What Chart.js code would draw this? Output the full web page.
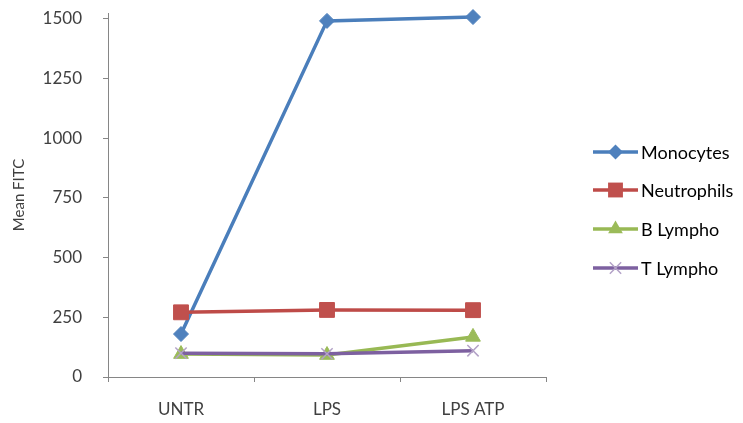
<!DOCTYPE html>
<html>
<head>
<meta charset="utf-8">
<script src="https://cdn.jsdelivr.net/npm/chart.js@4/dist/chart.umd.min.js"></script>
<style>
  html, body { margin: 0; padding: 0; background: #ffffff; }
  #wrap { width: 743px; height: 423px; position: relative; }
</style>
</head>
<body>
<div id="wrap"><canvas id="c" width="743" height="423"></canvas></div>
<script>
// Treatments on the x axis
const categories = ['UNTR', 'LPS', 'LPS ATP'];

// Mean FITC per cell population
const monocytes   = [180, 1492, 1508];
const neutrophils = [271, 281, 280];
const bLympho     = [96, 92, 168];
const tLympho     = [100, 97, 110];

// Y axis tick values
const yTicks = [0, 250, 500, 750, 1000, 1250, 1500];

const FONT = 'Lato, "Liberation Sans", sans-serif';
const AXIS_COLOR = '#868686';
const TEXT_COLOR = '#404040';

const series = [
  { label: 'Monocytes',   data: monocytes,   line: '#4A7EBB', fill: '#4F81BD', style: 'rectRot',  radius: 7.5, bw: 1 },
  { label: 'Neutrophils', data: neutrophils, line: '#BE4B48', fill: '#C0504D', style: 'rect',     radius: 10.5, bw: 1 },
  { label: 'B Lympho',    data: bLympho,     line: '#98B954', fill: '#9BBB59', style: 'triangle', radius: 8.5, bw: 1 },
  { label: 'T Lympho',    data: tLympho,     line: '#7D60A0', fill: '#B3A2C7', style: 'crossRot', radius: 8, bw: 1.5 }
];

// Hand-drawn marker for the legend entries
function drawMarker(ctx, s, x, y) {
  const r = s.radius;
  ctx.save();
  ctx.fillStyle = s.fill;
  ctx.strokeStyle = s.fill;
  ctx.lineWidth = s.bw;
  ctx.beginPath();
  if (s.style === 'rectRot') {
    ctx.moveTo(x, y - r); ctx.lineTo(x + r, y); ctx.lineTo(x, y + r); ctx.lineTo(x - r, y);
    ctx.closePath(); ctx.fill();
  } else if (s.style === 'rect') {
    const h = r * Math.SQRT1_2;
    ctx.rect(x - h, y - h, 2 * h, 2 * h); ctx.fill();
  } else if (s.style === 'triangle') {
    ctx.moveTo(x, y - r);
    ctx.lineTo(x + r * Math.sin(Math.PI / 3), y + r * 0.5);
    ctx.lineTo(x - r * Math.sin(Math.PI / 3), y + r * 0.5);
    ctx.closePath(); ctx.fill();
  } else {
    const d = r * Math.SQRT1_2;
    ctx.moveTo(x - d, y - d); ctx.lineTo(x + d, y + d);
    ctx.moveTo(x + d, y - d); ctx.lineTo(x - d, y + d);
    ctx.stroke();
  }
  ctx.restore();
}

const sideLegend = {
  id: 'sideLegend',
  afterDraw(chart) {
    const ctx = chart.ctx;
    const x0 = 593, x1 = 638, tx = 641;
    const ys = [152, 190, 229, 268];
    series.forEach((s, i) => {
      const y = ys[i];
      ctx.save();
      ctx.strokeStyle = s.line;
      ctx.lineWidth = 3.5;
      ctx.beginPath(); ctx.moveTo(x0, y); ctx.lineTo(x1, y); ctx.stroke();
      ctx.restore();
      drawMarker(ctx, s, (x0 + x1) / 2, y);
      ctx.save();
      ctx.fillStyle = '#000000';
      ctx.font = '18px ' + FONT;
      ctx.textBaseline = 'middle';
      ctx.textAlign = 'left';
      ctx.fillText(s.label, tx, y + 1);
      ctx.restore();
    });
  }
};

new Chart(document.getElementById('c'), {
  type: 'line',
  data: {
    labels: categories,
    // later series are painted over earlier ones
    datasets: series.map((s, i) => ({
      label: s.label,
      data: s.data,
      order: series.length - i,
      borderColor: s.line,
      borderWidth: 3.5,
      backgroundColor: s.fill,
      pointStyle: s.style,
      pointRadius: s.radius,
      pointHoverRadius: s.radius,
      pointBackgroundColor: s.fill,
      pointBorderColor: s.fill,
      pointBorderWidth: s.bw,
      tension: 0,
      clip: false
    }))
  },
  options: {
    responsive: false,
    animation: false,
    events: [],
    layout: { padding: { top: 13, right: 197, bottom: 0, left: 0 } },
    plugins: {
      legend: { display: false },
      tooltip: { enabled: false }
    },
    scales: {
      x: {
        type: 'category',
        offset: true,
        grid: { display: true, drawOnChartArea: false, offset: true, tickLength: 5, color: AXIS_COLOR, lineWidth: 1 },
        border: { display: true, color: AXIS_COLOR, width: 1 },
        ticks: { color: TEXT_COLOR, font: { family: FONT, size: 17 }, padding: 17, maxRotation: 0 },
        afterFit(scale) { scale.height = 46; scale.paddingLeft = 0; scale.paddingRight = 0; }
      },
      y: {
        min: 0,
        max: 1525,
        afterBuildTicks(scale) { scale.ticks = yTicks.map(v => ({ value: v })); },
        grid: { display: true, drawOnChartArea: false, tickLength: 5, color: AXIS_COLOR, lineWidth: 1 },
        border: { display: true, color: AXIS_COLOR, width: 1 },
        ticks: { color: TEXT_COLOR, font: { family: FONT, size: 17 }, padding: 21, callback: v => String(v) },
        title: { display: true, text: 'Mean FITC', color: TEXT_COLOR, font: { family: FONT, size: 15 }, padding: { top: 10, bottom: 0 } },
        afterFit(scale) { scale.width = 108; scale.paddingTop = 0; scale.paddingBottom = 0; }
      }
    }
  },
  plugins: [sideLegend]
});
</script>
</body>
</html>
